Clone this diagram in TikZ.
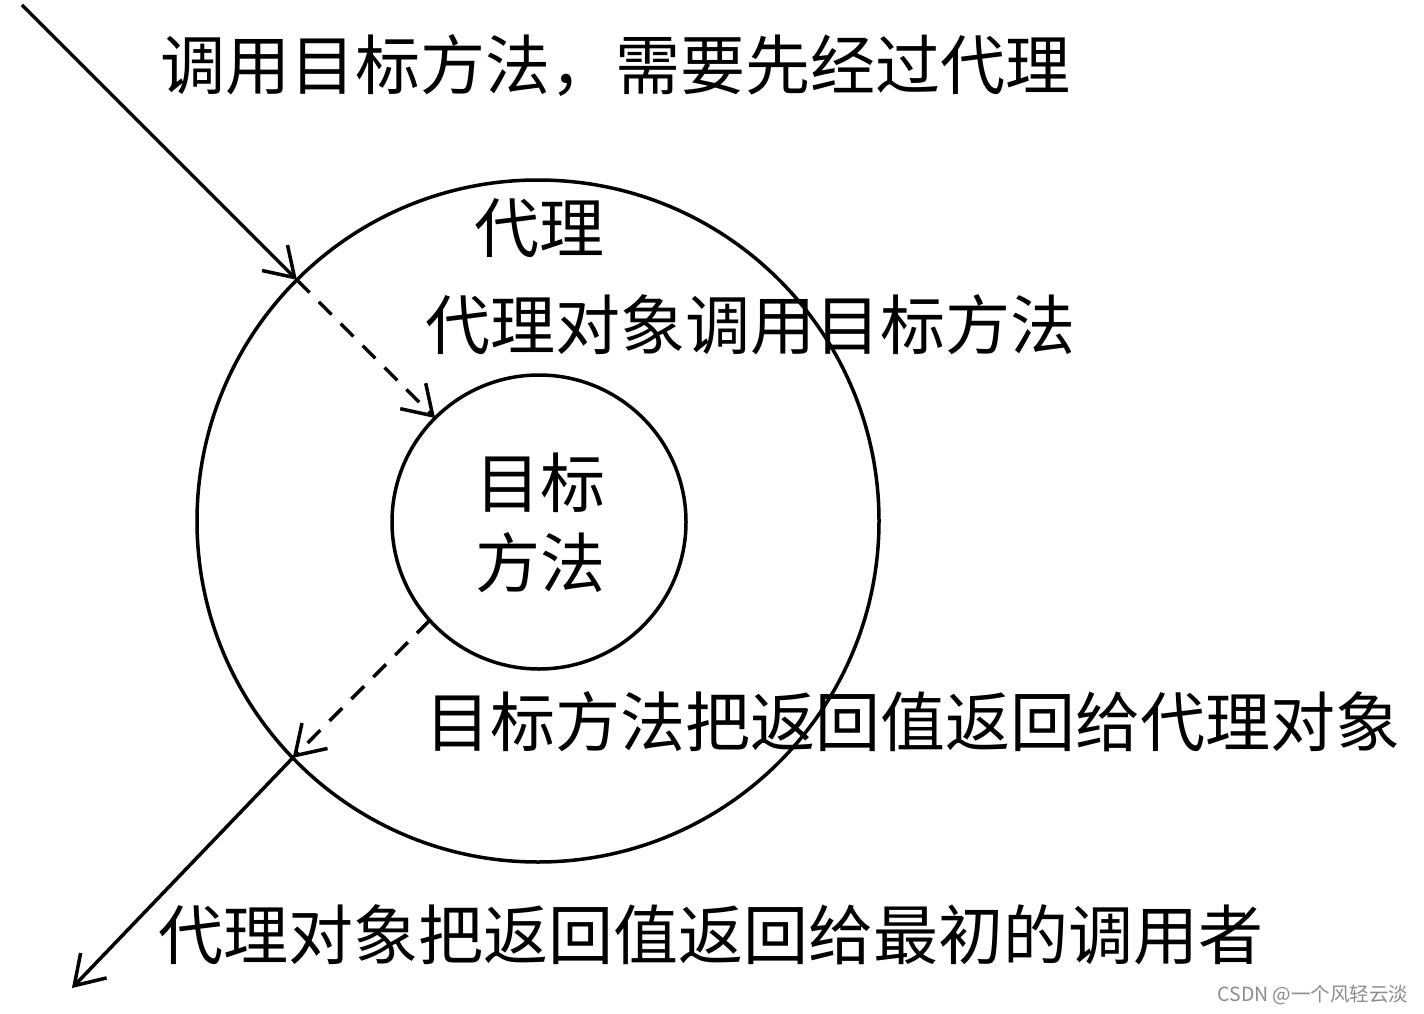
\documentclass[tikz,border=0pt]{standalone}
\usepackage{fontspec}
\setmainfont{Noto Sans CJK SC}
\usetikzlibrary{arrows.meta}
\tikzset{
  ring/.style={circle, draw, line width=3.5pt, inner sep=0pt, outer sep=0pt},
  lbl/.style={inner sep=0pt, font=\fontsize{65pt}{80pt}\selectfont, align=center},
  flow/.style={line width=3.5pt, -{Straight Barb[length=28pt,width=36pt,line width=3.5pt]}},
  dflow/.style={flow, dash pattern=on 18pt off 13pt}
}
\begin{document}
\begin{tikzpicture}[x=1pt,y=-1pt]
\useasboundingbox (0,0) rectangle (1424,1014);
\fill[white] (0,0) rectangle (1424,1014);
\node[ring, minimum size=682pt] (outer) at (538,521) {};
\node[ring, minimum size=294pt] (inner) at (539,522) {};
\coordinate (start) at (22,5);
\coordinate (finish) at (72,988);
\draw[flow] (start) -- (outer.135);
\draw[dflow] (outer.135) -- (inner.135);
\draw[dflow] (inner.222) -- (outer.224);
\draw[flow] (outer.224) -- (finish);
\node[lbl] (title) at (615,65) {调用目标方法，需要先经过代理};
\node[lbl] (proxy) at (539,228) {代理};
\node[lbl] (call) at (750,325) {代理对象调用目标方法};
\node[lbl] (target) at (540,523) {目标\\方法};
\node[lbl] (ret1) at (913,722) {目标方法把返回值返回给代理对象};
\node[lbl] (ret2) at (711,935) {代理对象把返回值返回给最初的调用者};
\node[inner sep=0pt, text=black!45, font=\fontsize{19.5pt}{22pt}\selectfont] (wm) at (1313,995) {CSDN @一个风轻云淡};
\end{tikzpicture}
\end{document}
